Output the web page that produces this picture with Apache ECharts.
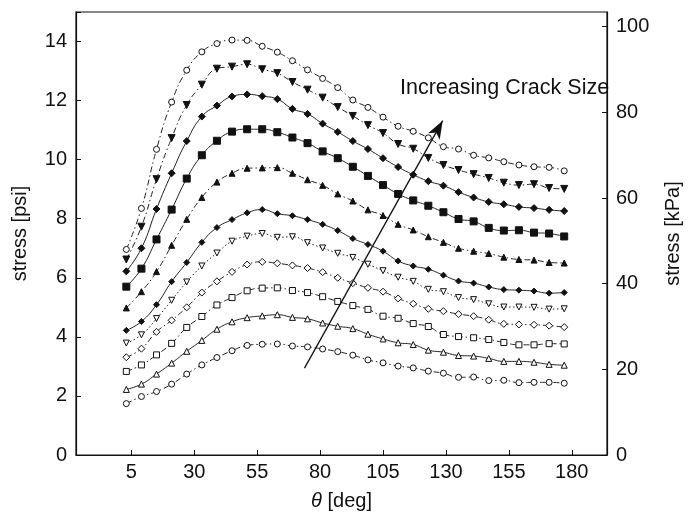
<!DOCTYPE html>
<html>
<head>
<meta charset="utf-8">
<script src="https://cdn.jsdelivr.net/npm/echarts@6/dist/echarts.min.js"></script>
<style>
  html, body { margin: 0; padding: 0; background: #fff; }
  #chart { width: 691px; height: 519px; }
</style>
</head>
<body>
<div id="chart"></div>
<script>
// Angle (deg) at which the stress was sampled
const theta = [3, 9, 15, 21, 27, 33, 39, 45, 51, 57, 63, 69, 75, 81, 87, 93, 99, 105, 111, 117, 123, 129, 135, 141, 147, 153, 159, 165, 171, 177];

// Stress (psi) for each crack size, largest crack first
const crack11 = [6.96, 8.35, 10.35, 11.95, 13.03, 13.65, 13.93, 14.05, 14.04, 13.84, 13.64, 13.35, 13.04, 12.75, 12.44, 12.02, 11.77, 11.44, 11.13, 10.96, 10.74, 10.44, 10.36, 10.15, 10.06, 9.93, 9.82, 9.76, 9.74, 9.62];
const crack10 = [6.62, 7.73, 9.34, 10.73, 11.85, 12.54, 13.08, 13.15, 13.23, 13.06, 12.93, 12.63, 12.37, 12.10, 11.78, 11.48, 11.17, 10.90, 10.53, 10.37, 10.06, 9.82, 9.65, 9.51, 9.38, 9.22, 9.14, 9.17, 9.04, 9.01];
const crack9 = [6.22, 7.00, 8.33, 9.54, 10.63, 11.46, 11.83, 12.14, 12.21, 12.15, 12.05, 11.72, 11.55, 11.22, 10.94, 10.63, 10.36, 10.05, 9.75, 9.49, 9.27, 9.12, 8.90, 8.72, 8.57, 8.49, 8.40, 8.36, 8.30, 8.26];
const crack8 = [5.70, 6.31, 7.30, 8.31, 9.36, 10.15, 10.64, 10.95, 11.03, 11.03, 10.93, 10.75, 10.56, 10.28, 10.05, 9.76, 9.45, 9.14, 8.84, 8.62, 8.44, 8.22, 7.99, 7.91, 7.69, 7.60, 7.61, 7.53, 7.50, 7.40];
const crack7 = [4.98, 5.53, 6.21, 7.10, 7.98, 8.72, 9.24, 9.54, 9.71, 9.72, 9.73, 9.54, 9.32, 9.13, 8.84, 8.60, 8.30, 8.11, 7.81, 7.62, 7.39, 7.20, 7.00, 6.90, 6.82, 6.70, 6.62, 6.60, 6.52, 6.50];
const crack6 = [4.22, 4.52, 5.09, 5.87, 6.52, 7.20, 7.70, 7.97, 8.20, 8.31, 8.17, 8.10, 7.97, 7.81, 7.60, 7.33, 7.13, 6.90, 6.57, 6.40, 6.29, 6.09, 5.89, 5.82, 5.69, 5.60, 5.58, 5.55, 5.48, 5.50];
const crack5 = [3.79, 4.07, 4.62, 5.24, 5.86, 6.40, 6.84, 7.24, 7.41, 7.50, 7.37, 7.39, 7.19, 7.01, 6.83, 6.69, 6.46, 6.24, 6.02, 5.88, 5.61, 5.53, 5.33, 5.26, 5.12, 5.01, 5.01, 5.00, 4.94, 4.95];
const crack4 = [3.31, 3.60, 4.17, 4.56, 5.00, 5.50, 5.88, 6.20, 6.45, 6.54, 6.49, 6.42, 6.33, 6.19, 6.00, 5.82, 5.66, 5.53, 5.30, 5.12, 4.95, 4.87, 4.77, 4.70, 4.58, 4.44, 4.42, 4.41, 4.38, 4.33];
const crack3 = [2.83, 3.05, 3.39, 3.78, 4.32, 4.69, 5.08, 5.33, 5.56, 5.65, 5.66, 5.57, 5.50, 5.36, 5.20, 5.06, 4.93, 4.70, 4.63, 4.45, 4.35, 4.08, 4.01, 3.97, 3.91, 3.81, 3.73, 3.73, 3.77, 3.76];
const crack2 = [2.22, 2.40, 2.74, 3.11, 3.51, 3.88, 4.26, 4.51, 4.65, 4.71, 4.75, 4.66, 4.61, 4.47, 4.36, 4.28, 4.09, 3.93, 3.80, 3.74, 3.55, 3.48, 3.37, 3.35, 3.27, 3.17, 3.17, 3.14, 3.07, 3.04];
const crack1 = [1.74, 1.98, 2.15, 2.40, 2.74, 3.05, 3.30, 3.53, 3.71, 3.75, 3.76, 3.69, 3.66, 3.59, 3.50, 3.38, 3.22, 3.12, 3.01, 2.95, 2.84, 2.77, 2.63, 2.64, 2.52, 2.53, 2.45, 2.46, 2.46, 2.43];

// Tick labels
const thetaTicks = [5, 30, 55, 80, 105, 130, 155, 180];
const psiTicks = [0, 2, 4, 6, 8, 10, 12, 14];
const kpaTicks = [0, 20, 40, 60, 80, 100];

// Trend arrow endpoints [deg, psi]
const arrowFrom = [73.8, 2.94];
const arrowTo = [128.7, 11.32];
const arrowLabel = 'Increasing Crack Size';

const PSI_MAX = 15;
const KPA_PER_PSI = 6.894757;
const FONT = '"Liberation Sans", Arial, sans-serif';
const INK = '#111';

const dashDot = [6, 3, 1.5, 3];
const solid = 'solid';

// marker / line style per curve (top to bottom)
const curves = [
  { data: crack11, symbol: 'circle', fill: '#fff', rot: 0, line: dashDot, size: 6 },
  { data: crack10, symbol: 'triangle', fill: INK, rot: 180, line: dashDot, size: 7 },
  { data: crack9, symbol: 'diamond', fill: INK, rot: 0, line: solid, size: 7 },
  { data: crack8, symbol: 'rect', fill: INK, rot: 0, line: solid, size: 7 },
  { data: crack7, symbol: 'triangle', fill: INK, rot: 0, line: dashDot, size: 6 },
  { data: crack6, symbol: 'diamond', fill: INK, rot: 0, line: solid, size: 6 },
  { data: crack5, symbol: 'triangle', fill: '#fff', rot: 180, line: [1.5, 2.5], size: 6 },
  { data: crack4, symbol: 'diamond', fill: '#fff', rot: 0, line: dashDot, size: 7 },
  { data: crack3, symbol: 'rect', fill: '#fff', rot: 0, line: dashDot, size: 6 },
  { data: crack2, symbol: 'triangle', fill: '#fff', rot: 0, line: solid, size: 6 },
  { data: crack1, symbol: 'circle', fill: '#fff', rot: 0, line: dashDot, size: 6 }
];

const series = curves.map((c, i) => ({
  name: 'crack' + (11 - i),
  type: 'line',
  xAxisIndex: 0,
  yAxisIndex: 0,
  smooth: 0.5,
  data: theta.map((t, k) => [t, c.data[k]]),
  symbol: c.symbol,
  symbolRotate: c.rot,
  symbolSize: c.size,
  showAllSymbol: true,
  itemStyle: { color: c.fill, borderColor: INK, borderWidth: 1 },
  lineStyle: { color: '#222', width: 1, type: c.line },
  z: 3
}));

// arrow showing the direction of increasing crack size
series.push({
  type: 'line',
  data: [],
  markLine: {
    silent: true,
    symbol: ['none', 'arrow'],
    symbolSize: [10, 18],
    label: { show: false },
    lineStyle: { color: INK, width: 1.3, type: 'solid' },
    data: [[{ coord: arrowFrom }, { coord: arrowTo }]]
  },
  z: 4
});

const chart = echarts.init(document.getElementById('chart'), null, { renderer: 'canvas' });
chart.setOption({
  animation: false,
  backgroundColor: '#fff',
  grid: {
    left: 76, right: 66, top: 12, bottom: 64,
    show: true, borderColor: INK, borderWidth: 1.2, backgroundColor: 'transparent'
  },
  xAxis: {
    type: 'value',
    min: -17, max: 194,
    name: '{i|θ} [deg]',
    nameLocation: 'middle',
    nameGap: 36,
    nameTextStyle: {
      color: INK, fontFamily: FONT, fontSize: 20,
      rich: { i: { fontStyle: 'italic', fontFamily: FONT, fontSize: 20, color: INK } }
    },
    axisLine: { onZero: false, lineStyle: { color: INK, width: 1.2 } },
    axisTick: { inside: true, length: 5, customValues: thetaTicks, lineStyle: { color: INK } },
    axisLabel: { customValues: thetaTicks, color: INK, fontFamily: FONT, fontSize: 20, margin: 7 },
    splitLine: { show: false }
  },
  yAxis: [
    {
      type: 'value',
      min: 0, max: PSI_MAX, interval: 2,
      name: 'stress [psi]',
      nameLocation: 'middle',
      nameGap: 46,
      nameTextStyle: { color: INK, fontFamily: FONT, fontSize: 20 },
      axisLine: { show: true, onZero: false, lineStyle: { color: INK, width: 1.2 } },
      axisTick: { inside: true, length: 5, lineStyle: { color: INK } },
      axisLabel: { color: INK, fontFamily: FONT, fontSize: 20, margin: 9,
        customValues: psiTicks },
      splitLine: { show: false }
    },
    {
      type: 'value',
      position: 'right',
      min: 0, max: PSI_MAX * KPA_PER_PSI, interval: 20,
      name: 'stress [kPa]',
      nameLocation: 'middle',
      nameGap: 56,
      nameRotate: 90,
      nameTextStyle: { color: INK, fontFamily: FONT, fontSize: 20 },
      axisLine: { show: true, onZero: false, lineStyle: { color: INK, width: 1.2 } },
      axisTick: { inside: true, length: 5, customValues: kpaTicks, lineStyle: { color: INK } },
      axisLabel: { color: INK, fontFamily: FONT, fontSize: 20, margin: 9, customValues: kpaTicks },
      splitLine: { show: false }
    }
  ],
  graphic: [{
    type: 'text',
    left: 400,
    top: 77,
    style: { text: arrowLabel, fill: INK, font: '21.5px ' + FONT }
  }],
  series: series
});
</script>
</body>
</html>
